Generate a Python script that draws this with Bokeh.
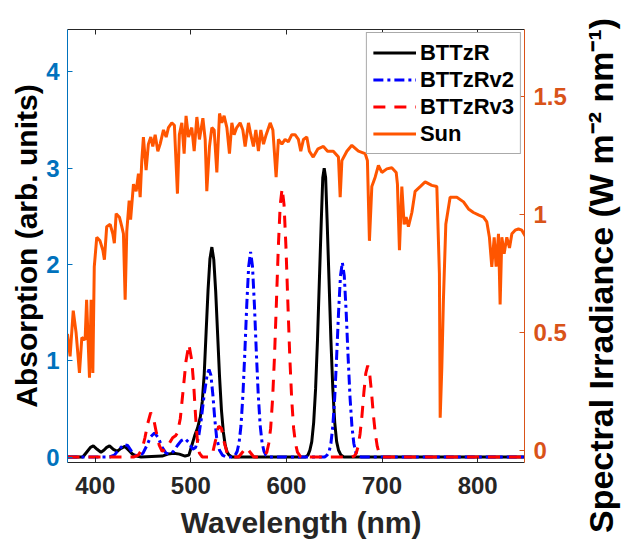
import math
from bokeh.plotting import figure
from bokeh.models import Range1d, LinearAxis, FixedTicker, Legend, LegendItem, Label
from bokeh.layouts import row, column
from bokeh.embed import file_html
from bokeh.resources import INLINE

# ---------------- data ----------------
bttzr_wl = [371, 387, 391, 395, 398, 402, 406, 409, 412, 415, 419, 423, 427, 431, 435, 439, 443, 448,
            470, 476, 482, 488, 494, 498, 501, 504, 507, 510, 512, 514, 516, 518, 520, 522, 524, 526,
            528, 530, 532, 534, 536, 538, 540, 543, 620, 622.5, 624.5, 626.5, 628.5, 630.5, 632.5,
            634.5, 636.5, 638, 639.5, 641, 642.5, 644.5, 646.5, 648.5, 650.5, 652.5, 654.5, 657, 660, 849]
bttzr_abs = [0, 0.0, 0.05, 0.10, 0.115, 0.08, 0.05, 0.07, 0.10, 0.115, 0.08, 0.06, 0.09, 0.11, 0.07, 0.03, 0.01, 0.0,
             0.01, 0.03, 0.04, 0.03, 0.01, 0.02, 0.12, 0.22, 0.30, 0.42, 0.58, 0.86, 1.30, 1.73, 2.06, 2.18, 2.05, 1.72,
             1.28, 0.84, 0.49, 0.26, 0.12, 0.05, 0.02, 0.0, 0.0, 0.02, 0.07, 0.16, 0.36, 0.71, 1.22,
             1.85, 2.47, 2.9, 3.0, 2.9, 2.47, 1.85, 1.22, 0.71, 0.36, 0.16, 0.07, 0.02, 0.0, 0.0]

bttzrv2_wl = [371, 415, 420, 425, 430, 434, 438, 442, 446, 450, 454, 458, 462, 466, 470, 474, 478, 482, 486, 490,
              494, 498, 502, 505, 508, 511, 514, 517, 519, 521, 523, 525, 527, 530, 533, 537, 544, 546.5, 548.5,
              550.5, 552.5, 554.5, 556.5, 558.5, 560.5, 562.5, 564.5, 566.5, 568.5, 570.5, 572.5, 574.5, 576.5,
              578.5, 582, 640, 642.5, 644.5, 646.5, 648.5, 650.5, 652.5, 654.5, 656.5, 658.5, 660.5, 662.5, 664.5,
              666.5, 668.5, 670.5, 672.5, 674.5, 678, 849]
bttzrv2_abs = [0, 0.0, 0.02, 0.08, 0.13, 0.12, 0.06, 0.02, 0.01, 0.04, 0.12, 0.21, 0.25, 0.20, 0.10, 0.04, 0.03, 0.06, 0.12, 0.17,
               0.19, 0.15, 0.08, 0.10, 0.20, 0.40, 0.65, 0.85, 0.91, 0.85, 0.65, 0.40, 0.20, 0.07, 0.02, 0.0, 0.0, 0.02, 0.06,
               0.15, 0.33, 0.65, 1.09, 1.58, 1.98, 2.13, 1.98, 1.58, 1.09, 0.65, 0.33, 0.15, 0.06,
               0.02, 0.0, 0.0, 0.02, 0.05, 0.14, 0.32, 0.62, 1.04, 1.50, 1.88, 2.02, 1.88, 1.50, 1.04,
               0.62, 0.32, 0.14, 0.05, 0.02, 0.0, 0.0]

bttzrv3_wl = [371, 440, 445, 449, 452, 455, 458, 461, 464, 467, 470, 474, 478, 481, 484, 486, 489, 492, 495, 498,
              501, 503, 505, 507, 509, 512, 520, 523, 526, 529, 532, 535, 538, 542, 550, 554, 558, 562, 566, 575,
              577.5, 579.5, 581.5, 583.5, 585.5, 587.5, 589.5, 591.5, 593.5, 595.5, 597.5, 599.5, 601.5, 603.5,
              605.5, 607.5, 609.5, 611.5, 615, 668, 671, 673, 675, 677, 679, 681, 683, 685, 687, 689, 691, 693,
              695, 697, 700, 849]
bttzrv3_abs = [0, 0.0, 0.02, 0.08, 0.20, 0.35, 0.46, 0.40, 0.25, 0.12, 0.06, 0.08, 0.15, 0.20, 0.22, 0.25, 0.40, 0.70, 1.00, 1.17,
               1.00, 0.75, 0.42, 0.15, 0.04, 0.0, 0.0, 0.05, 0.18, 0.32, 0.30, 0.15, 0.04, 0.0, 0.0, 0.05, 0.10, 0.05, 0.0, 0.0,
               0.02, 0.05, 0.14, 0.30, 0.60, 1.04, 1.60, 2.18, 2.62, 2.79, 2.62, 2.18, 1.60, 1.04,
               0.60, 0.30, 0.14, 0.05, 0.0, 0.0, 0.01, 0.04, 0.11, 0.24, 0.43, 0.67, 0.87, 0.95, 0.87, 0.67, 0.43, 0.24,
               0.11, 0.04, 0.0, 0.0]

sun_wl = [371, 373.7, 377, 380, 383.5, 386, 389.4, 391, 394, 395.7, 397.5, 399, 401.6, 405, 408, 409.6, 412, 415.6,
          418.4, 420, 421.9, 425.3, 427.8, 429.5, 431.3, 433, 435.5, 437, 440, 442.8, 445.2, 447, 448.7, 450.4,
          453.2, 455.6, 458.1, 460.2, 462.7, 465.5, 467.9, 471.4, 474.2, 476.6, 480.1, 482.8, 486, 488, 490.6,
          493, 495, 497.5, 501, 503.5, 506.3, 509, 512.6, 515, 516.7, 519.5, 522, 524.4, 527.2, 530, 532.4,
          534.8, 537.7, 540.4, 542.9, 545.3, 548, 551.6, 554.4, 556.8, 560.3, 562.7, 565.5, 568, 570.7, 573.2,
          576, 578.8, 583, 585.8, 589.2, 591.6, 595.2, 598.6, 602, 605.6, 609, 612.5, 615, 617.8, 621.3, 624,
          628, 633, 638.7, 643, 649, 654.4, 656.2, 658, 663.2, 668.4, 675.3, 682.3, 684.7, 686.8, 689.3, 692.8,
          696.2, 699.8, 705, 710.2, 714.8, 716.1, 718.2, 720.7, 723.1, 725.2, 727.6, 731.2, 734.6, 739.9, 745.1,
          752, 757.3, 760, 760.8, 762.5, 764.2, 766.7, 771.2, 778.2, 785.2, 790.4, 795.6, 800.8, 806.1, 809.6,
          812.3, 814.8, 817.3, 819.3, 821.8, 823.5, 825.3, 827.7, 830.5, 833.3, 835.8, 839.2, 842.7, 846.2, 849.7]
sun_irr = [0.495, 0.40, 0.594, 0.50, 0.33, 0.48, 0.47, 0.64, 0.31, 0.64, 0.33, 0.78, 0.905, 0.89, 0.85, 0.81, 0.95, 0.96,
           0.92, 0.88, 1.005, 0.99, 0.95, 0.92, 0.64, 0.93, 1.06, 0.98, 1.13, 1.10, 1.175, 1.075, 1.23, 1.33,
           1.19, 1.30, 1.33, 1.29, 1.34, 1.27, 1.30, 1.36, 1.33, 1.37, 1.39, 1.38, 1.09, 1.34, 1.39,
           1.26, 1.42, 1.33, 1.37, 1.27, 1.415, 1.32, 1.41, 1.32, 1.10, 1.29, 1.37, 1.36, 1.18, 1.43, 1.39,
           1.42, 1.37, 1.26, 1.39, 1.34, 1.37, 1.39, 1.36, 1.29, 1.39, 1.34, 1.29, 1.36, 1.27, 1.36,
           1.30, 1.34, 1.39, 1.36, 1.16, 1.32, 1.30, 1.32, 1.31, 1.34, 1.34, 1.32, 1.27, 1.32, 1.33, 1.27,
           1.245, 1.28, 1.29, 1.27, 1.27, 1.245, 1.075, 1.23, 1.27, 1.295, 1.27, 1.26, 1.23, 0.89, 1.12, 1.16,
           1.21, 1.18, 1.195, 1.20, 1.18, 1.13, 0.85, 1.12, 0.96, 0.99, 0.95, 1.01, 1.10, 1.12, 1.14,
           1.125, 1.12, 0.75, 0.14, 0.35, 0.64, 0.96, 1.075, 1.075, 1.055, 1.025, 1.01, 1.00, 0.99, 0.97,
           0.905, 0.78, 0.905, 0.78, 0.92, 0.62, 0.905, 0.835, 0.905, 0.86, 0.92, 0.935, 0.94, 0.935, 0.91]

x_ticks = [400, 500, 600, 700, 800]
abs_ticks = [0, 1, 2, 3, 4]
irr_ticks = [0, 0.5, 1, 1.5]
irr_tick_labels = ["0", "0.5", "1", "1.5"]

series_names = ["BTTzR", "BTTzRv2", "BTTzRv3", "Sun"]

x_label = "Wavelength (nm)"
left_label = "Absorption (arb. units)"
right_label = "Spectral Irradiance (W m\u207b\u00b2 nm\u207b\u00b9)"

# ---------------- styling ----------------
FONT = "Liberation Sans"
BLUE_AX = "#0072BD"
ORANGE_AX = "#D95319"
SUN = "#FF5500"
DARK = "#262626"

MAIN_W, MAIN_H = 578, 503
SIDE_W = 621 - MAIN_W
TOTAL_H = 539
XLAB_H = TOTAL_H - MAIN_H

p = figure(width=MAIN_W, height=MAIN_H, output_backend="svg", toolbar_location=None,
           x_range=Range1d(371, 849), y_range=Range1d(-0.057, 4.44),
           min_border_left=67, min_border_right=MAIN_W - 524, min_border_top=29, min_border_bottom=MAIN_H - 462)
p.extra_y_ranges = {"sun": Range1d(-0.05, 1.786)}
p.outline_line_color = None
p.xgrid.visible = False
p.ygrid.visible = False
p.background_fill_color = "white"
p.border_fill_color = "white"

# bottom axis
xa = p.xaxis[0]
xa.ticker = FixedTicker(ticks=x_ticks)
xa.major_tick_in = 5
xa.major_tick_out = 0
xa.minor_tick_line_color = None
xa.axis_line_color = DARK
xa.major_tick_line_color = DARK
xa.major_label_text_font = FONT
xa.major_label_text_font_style = "bold"
xa.major_label_text_font_size = "24px"
xa.major_label_text_color = DARK
xa.major_label_standoff = 14

# left axis
ya = p.yaxis[0]
ya.ticker = FixedTicker(ticks=abs_ticks)
ya.major_tick_in = 5
ya.major_tick_out = 0
ya.minor_tick_line_color = None
ya.axis_line_color = BLUE_AX
ya.major_tick_line_color = BLUE_AX
ya.major_label_text_font = FONT
ya.major_label_text_font_style = "bold"
ya.major_label_text_font_size = "24px"
ya.major_label_text_color = BLUE_AX
ya.major_label_standoff = 8
ya.axis_label = left_label
ya.axis_label_text_font = FONT
ya.axis_label_text_font_style = "bold"
ya.axis_label_text_font_size = "30px"
ya.axis_label_text_color = "black"
ya.axis_label_standoff = 0

# right axis
ra = LinearAxis(y_range_name="sun", ticker=FixedTicker(ticks=irr_ticks),
                major_label_overrides={t: s for t, s in zip(irr_ticks, irr_tick_labels)})
ra.major_tick_in = 5
ra.major_tick_out = 0
ra.minor_tick_line_color = None
ra.axis_line_color = ORANGE_AX
ra.major_tick_line_color = ORANGE_AX
ra.major_label_text_font = FONT
ra.major_label_text_font_style = "bold"
ra.major_label_text_font_size = "24px"
ra.major_label_text_color = ORANGE_AX
ra.major_label_standoff = 9
p.add_layout(ra, "right")

# top axis (box edge with ticks, no labels)
ta = LinearAxis(ticker=FixedTicker(ticks=x_ticks),
                major_label_overrides={t: "" for t in x_ticks})
ta.major_tick_in = 5
ta.major_tick_out = 0
ta.minor_tick_line_color = None
ta.axis_line_color = DARK
ta.major_tick_line_color = DARK
ta.major_label_standoff = 0
ta.major_label_text_font_size = "8px"
p.add_layout(ta, "above")

# curves
r_sun = p.line(sun_wl, sun_irr, y_range_name="sun", line_color=SUN, line_width=3)
r_k = p.line(bttzr_wl, bttzr_abs, line_color="black", line_width=3)
r_b = p.line(bttzrv2_wl, bttzrv2_abs, line_color="blue", line_width=3, line_dash="10 4 3 4")
r_r = p.line(bttzrv3_wl, bttzrv3_abs, line_color="red", line_width=3, line_dash="12 9")

legend = Legend(items=[LegendItem(label=n, renderers=[r]) for n, r in
                       zip(series_names, [r_k, r_b, r_r, r_sun])],
                location="top_right", margin=3, padding=6, spacing=0,
                glyph_width=43, glyph_height=27, label_height=27, label_standoff=4,
                label_text_font=FONT, label_text_font_style="bold", label_text_font_size="22px",
                label_text_color="black", border_line_color="#555555", border_line_width=1,
                background_fill_color="white", background_fill_alpha=1.0)
p.add_layout(legend)


def text_panel(w, h):
    f = figure(width=w, height=h, output_backend="svg", toolbar_location=None,
               x_range=Range1d(0, w), y_range=Range1d(0, h),
               x_axis_location=None, y_axis_location=None,
               min_border=0, min_border_left=0, min_border_right=0,
               min_border_top=0, min_border_bottom=0)
    f.outline_line_color = None
    f.xgrid.visible = False
    f.ygrid.visible = False
    f.background_fill_color = "white"
    f.border_fill_color = "white"
    return f


# x-axis title panel (below the main plot)
xp = text_panel(MAIN_W, XLAB_H)
xp.add_layout(Label(x=(67 + 524) / 2, y=TOTAL_H - 521.5, text=x_label, text_align="center",
                    text_baseline="middle", text_font=FONT, text_font_style="bold",
                    text_font_size="30px", text_color=DARK))

# right-axis title panel
sp = text_panel(SIDE_W, TOTAL_H)
sp.add_layout(Label(x=600 - MAIN_W, y=TOTAL_H - 275, text=right_label, angle=math.pi / 2,
                    text_align="center", text_baseline="middle", text_font=FONT,
                    text_font_style="bold", text_font_size="34px", text_color="black"))

layout = row(column(p, xp, spacing=0), sp, spacing=0)

open("out.html", "w").write(file_html(layout, INLINE))
